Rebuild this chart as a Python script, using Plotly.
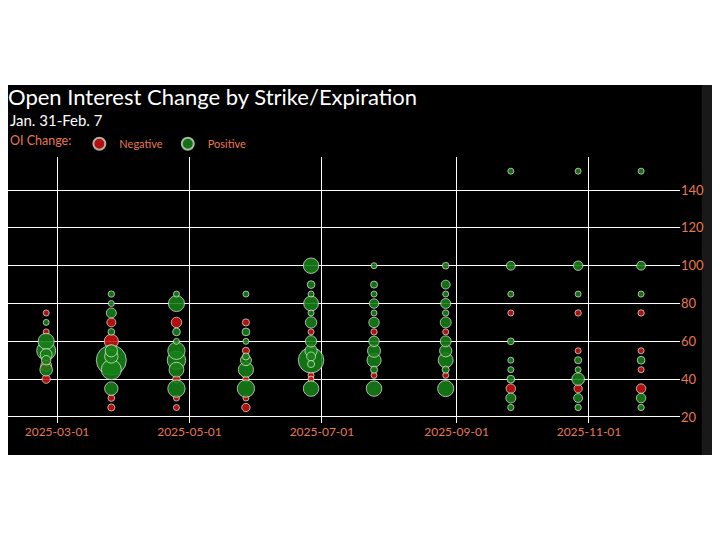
import plotly.graph_objects as go

# one row per bubble: expiration, strike, signed OI change (contracts)
expiry = (
    ["2025-02-24"] * 10
    + ["2025-03-26"] * 13
    + ["2025-04-25"] * 12
    + ["2025-05-27"] * 12
    + ["2025-06-26"] * 15
    + ["2025-07-25"] * 13
    + ["2025-08-27"] * 13
    + ["2025-09-26"] * 11
    + ["2025-10-27"] * 11
    + ["2025-11-25"] * 10
)
strike = (
    [75, 70, 65, 60, 55, 53, 47, 45, 40, 50]
    + [85, 80, 75, 70, 65, 60, 50, 52, 45, 35, 30, 25, 55]
    + [85, 80, 70, 65, 60, 55, 50, 45, 40, 35, 30, 25]
    + [85, 70, 65, 60, 55, 50, 45, 40, 35, 30, 25, 52]
    + [100, 90, 85, 80, 75, 70, 65, 60, 55, 50, 48, 42, 40, 35, 52]
    + [100, 90, 85, 80, 75, 70, 65, 60, 55, 50, 45, 42, 35]
    + [100, 90, 85, 80, 75, 70, 65, 60, 55, 50, 45, 42, 35]
    + [150, 100, 85, 75, 60, 50, 45, 40, 35, 30, 25]
    + [150, 100, 85, 75, 55, 50, 45, 40, 35, 30, 25]
    + [150, 100, 85, 75, 55, 50, 45, 35, 30, 25]
)
oi_change = (
    [-350, 200, -300, 2600, 3600, 1400, -1200, 1600, -700, 900]
    + [400, 200, 1000, -800, 450, -2000, 9000, 1800, 4000, 1800, -450, -500, 1500]
    + [300, 2600, -1100, 600, 250, 3000, 3400, 2200, -600, 3000, -300, -350]
    + [300, -500, 600, 250, -500, 1200, 2300, -400, 3000, -250, -700, 500]
    + [2400, 600, 250, 2200, 250, 1300, -300, 1300, 1500, 6500, 500, -250, -250, 2400, 800]
    + [300, 500, 300, 900, 350, 1100, -400, 1100, 1700, 2000, 500, -250, 2400]
    + [450, 800, 350, 1000, 400, 1200, -300, 1200, 1500, 2200, 500, -250, 2600]
    + [200, 800, 300, -200, 450, 200, 250, 600, -900, 1000, 400]
    + [200, 900, 350, -400, -200, 500, 350, 1600, -700, 800, 400]
    + [200, 800, 300, -400, -250, 600, -250, -900, 900, 400]
)

ORANGE = "#E8784E"
max_size = max(abs(v) for v in oi_change)
sizeref = 2.0 * max_size / (30 ** 2)


def subset(positive):
    rows = [(e, s, v) for e, s, v in zip(expiry, strike, oi_change) if (v > 0) == positive]
    rows.sort(key=lambda r: -abs(r[2]))  # big bubbles underneath
    return [r[0] for r in rows], [r[1] for r in rows], [abs(r[2]) for r in rows]


fig = go.Figure()
for name, positive, color in [("Negative", False, "#CC1212"), ("Positive", True, "#178017")]:
    x, y, s = subset(positive)
    fig.add_trace(
        go.Scatter(
            x=x,
            y=y,
            mode="markers",
            name=name,
            marker=dict(
                size=s,
                sizemode="area",
                sizeref=sizeref,
                sizemin=3,
                color=color,
                opacity=0.88,
                line=dict(color="rgba(225,235,215,0.85)", width=1),
            ),
        )
    )

# black panel + grey strip behind the chart
fig.add_shape(type="rect", xref="paper", yref="paper", x0=-0.012, x1=1.0327,
              y0=-0.1203, y1=1.2707, fillcolor="black", line_width=0, layer="below")
fig.add_shape(type="rect", xref="paper", yref="paper", x0=1.0327, x1=1.06,
              y0=-0.1203, y1=1.2707, fillcolor="#191919", line_width=0, layer="below")

fig.add_annotation(
    text="Jan. 31-Feb. 7", xref="paper", yref="paper", x=0.0, y=1.138,
    xanchor="left", yanchor="middle", showarrow=False,
    font=dict(size=15, color="white"),
)

fig.update_layout(
    width=712,
    height=532,
    margin=dict(l=0, r=40, t=149, b=117),
    paper_bgcolor="white",
    plot_bgcolor="black",
    font=dict(family="Lato, Open Sans, sans-serif", size=12, color=ORANGE),
    title=dict(
        text="Open Interest Change by Strike/Expiration",
        x=0.0, xanchor="left", y=0.8327, yanchor="middle",
        font=dict(size=22, color="white"),
    ),
    legend=dict(
        orientation="h",
        x=0.0, xanchor="left", y=1.05, yanchor="middle",
        bgcolor="rgba(0,0,0,0)",
        itemsizing="constant",
        title=dict(text="OI Change:", font=dict(size=12.5, color=ORANGE)),
        font=dict(size=11, color=ORANGE),
    ),
)
fig.update_xaxes(
    type="date",
    range=["2025-02-06 10:00", "2025-12-12 22:00"],
    tick0="2025-03-01",
    dtick="M2",
    tickformat="%Y-%m-%d",
    showgrid=True,
    gridcolor="white",
    gridwidth=1,
    zeroline=False,
    showline=False,
    automargin=False,
    tickfont=dict(size=12, color=ORANGE),
)
fig.update_yaxes(
    range=[16.8, 157.5],
    side="right",
    tickvals=[20, 40, 60, 80, 100, 120, 140],
    showgrid=True,
    gridcolor="white",
    gridwidth=1,
    zeroline=False,
    showline=False,
    automargin=False,
    tickfont=dict(size=13, color=ORANGE),
)

fig.write_html("out.html")
